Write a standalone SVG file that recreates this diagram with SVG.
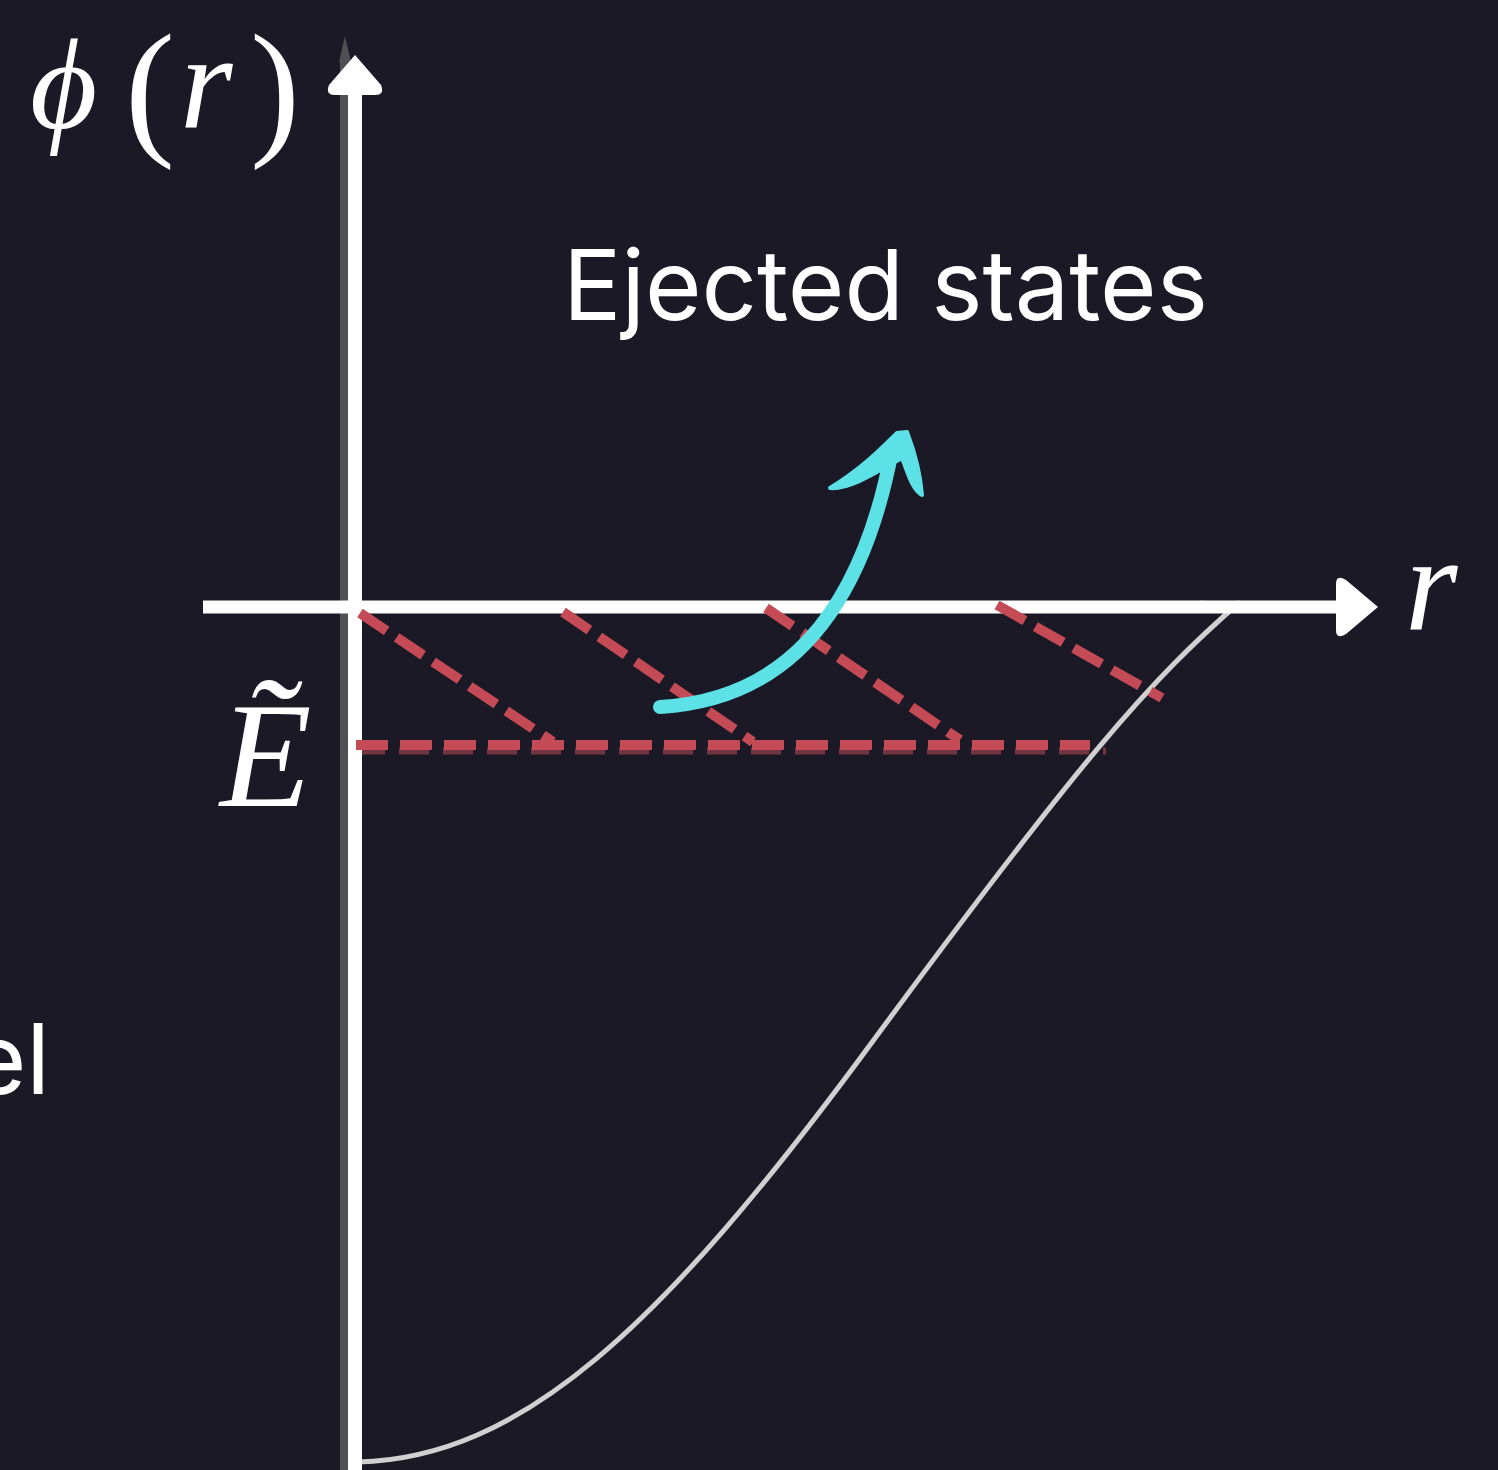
<svg xmlns="http://www.w3.org/2000/svg" width="1498" height="1470" viewBox="0 0 1498 1470">
<style>
.math{font-family:"Liberation Serif","DejaVu Serif",serif;font-style:italic;fill:#fff}
.mathup{font-family:"Liberation Serif","DejaVu Serif",serif;fill:#fff}
.sans{font-family:Inter,"Noto Sans",sans-serif;fill:#fff}
.dash{stroke:#c44a55;stroke-width:10;fill:none;stroke-dasharray:32 12}
</style>
<rect width="1498" height="1470" fill="#1b1926"/>
<g id="ghost">
<line x1="344" y1="60" x2="344" y2="1470" stroke="#4f4f55" stroke-width="8"/>
<polygon points="339,62 345,36 351,62" fill="#4f4f55"/>
<polygon points="1200,600 1240,605 1200,612" fill="#55555c"/>
<line x1="355" y1="751" x2="1106" y2="751" stroke="#8a3d48" stroke-width="7" stroke-dasharray="30 14" opacity="0.8"/>
</g>
<g id="curve">
<path d="M358,1462 C520,1458 660,1330 870,1045 S1150,680 1240,602" fill="none" stroke="#d0d0d0" stroke-width="5"/>
</g>
<g id="axes">
<line x1="355" y1="90" x2="355" y2="1470" stroke="#fff" stroke-width="14"/>
<path d="M355,55 L381,85 Q385,95 375,95 L335,95 Q325,95 329,85 Z" fill="#fff"/>
<line x1="203" y1="607" x2="1342" y2="607" stroke="#fff" stroke-width="13"/>
<path d="M1378,607 L1346,580 Q1336,574 1336,584 L1336,630 Q1336,640 1346,634 Z" fill="#fff"/>
</g>
<g id="levels">
<line class="dash" x1="360" y1="613" x2="553" y2="742"/>
<line class="dash" x1="563" y1="612" x2="753" y2="742"/>
<line class="dash" x1="766" y1="608" x2="960" y2="740"/>
<line class="dash" x1="997" y1="605" x2="1162" y2="698"/>
<line class="dash" x1="356" y1="745" x2="1090" y2="745"/>
</g>
<g id="arrow">
<path d="M660,707 C780,700 860,620 892,450" fill="none" stroke="#5ce1e6" stroke-width="14" stroke-linecap="round"/>
<path d="M830,488 C860,470 880,450 897,433 L907,432 C912,445 920,470 922,495 C912,490 907,470 902,458 C880,470 850,490 830,488 Z" fill="#5ce1e6" stroke="#5ce1e6" stroke-width="4" stroke-linejoin="round"/>
</g>
<g id="labels">
<text class="math" x="30" y="128" font-size="130">ϕ</text>
<text class="mathup" x="125" y="138" font-size="150">(</text>
<text class="math" x="180" y="128" font-size="135">r</text>
<text class="mathup" x="250" y="138" font-size="150">)</text>
<text class="math" x="1405" y="630" font-size="135">r</text>
<text class="math" x="220" y="806" font-size="150">Ẽ</text>
<text class="sans" x="563" y="320" font-size="98" textLength="645" lengthAdjust="spacingAndGlyphs">Ejected states</text>
<text class="sans" x="50" y="1094" font-size="98" text-anchor="end">el</text>
</g>
</svg>
